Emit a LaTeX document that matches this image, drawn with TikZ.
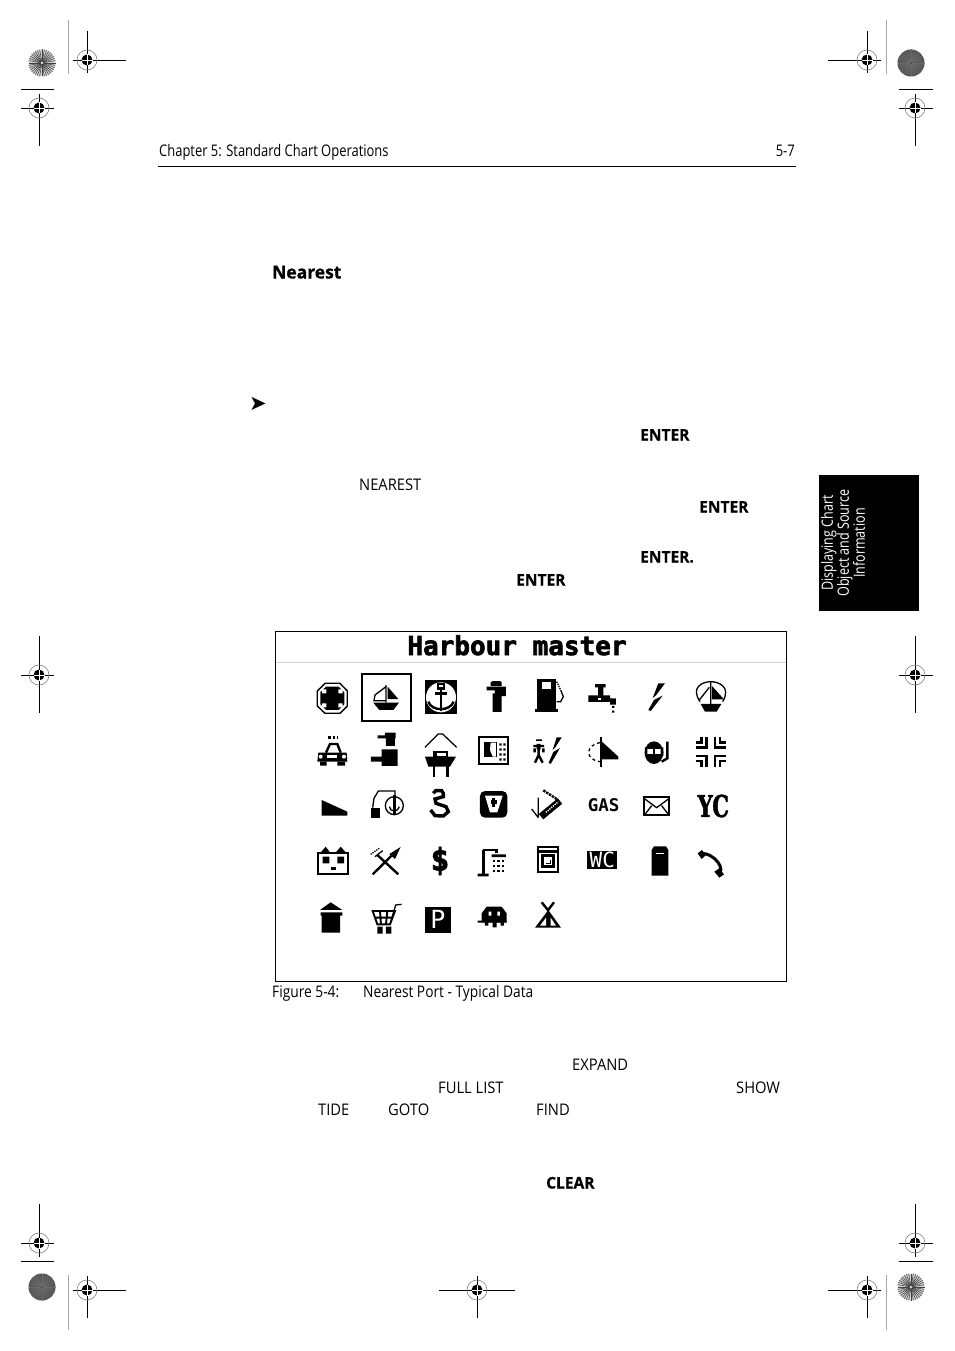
\documentclass[tikz,border=0pt]{standalone}
\usepackage{fontspec}
\usepackage{graphicx}
\setmainfont[FakeStretch=0.81,BoldFeatures={FakeStretch=0.97,FakeBold=0.6}]{Open Sans}
\newfontfamily\capsfont[FakeStretch=0.92]{Open Sans}
\newfontfamily\capfont[FakeStretch=0.86]{Open Sans}
\newfontfamily\lcdfont{DejaVu Sans Mono}
\newfontfamily\lcdmid[UprightFont={* Bold}]{DejaVu Sans Mono}
\newfontfamily\lcdheavy[UprightFont={* Bold},FakeBold=2.5]{DejaVu Sans Mono}
\newfontfamily\lcdserif[UprightFont={* Bold},FakeBold=2]{DejaVu Serif}
\newfontfamily\arrowfont{DejaVu Sans}
\newcommand{\regmark}[2]{%
  \draw[gray,line width=.6pt] (#1,#2) circle[radius=10];
  \fill (#1,#2) circle[radius=5.5];
  \draw[white,line width=.7pt] (#1-5.5,#2) -- (#1+5.5,#2) (#1,#2-5.5) -- (#1,#2+5.5);
}
\newcommand{\stardisc}[4]{%
  \fill[#3] (#1,#2) circle[radius=13.5];
  \foreach \a in {0,10,...,350}{\draw[#4,line width=.55pt] (#1,#2) -- ++(\a:13.5);}
  \fill[#3] (#1,#2) circle[radius=1.5];
}
\tikzset{
  crop/.style={line width=.8pt},
  grayline/.style={line width=.8pt,gray!70},
  pagetext/.style={anchor=base west,inner sep=0pt,font=\fontsize{16}{18}\selectfont},
  capstext/.style={pagetext,font=\fontsize{16}{18}\capsfont},
  captext/.style={pagetext,font=\fontsize{16}{18}\capfont},
  bolditem/.style={pagetext,font=\fontsize{16}{18}\selectfont\bfseries},
  lcd/.style={line width=2.4pt},
  lcdthin/.style={line width=1.3pt},
  zA/.style={shift={(300,630)},x=.3333pt,y=-.3333pt},
  zB/.style={shift={(530,630)},x=.3333pt,y=-.3333pt},
  zC/.style={shift={(300,785)},x=.3333pt,y=-.3333pt},
  zD/.style={shift={(530,785)},x=.3333pt,y=-.3333pt},
}
\begin{document}
\begin{tikzpicture}[x=1pt,y=-1pt]
\useasboundingbox[fill=white] (0,0) rectangle (954,1351);

% crop marks
\draw[grayline] (68,20)--(68,74) (886,20)--(886,74) (68,1275)--(68,1330) (886,1275)--(886,1330);
\draw[crop] (73,60)--(126,60) (87,31)--(87,73);
\regmark{87}{60}
\draw[crop] (828,60)--(881,60) (867,31)--(867,73);
\regmark{867}{60}
\draw[crop] (21,108)--(54,108) (39,94)--(39,146) (21,89)--(54,89);
\regmark{39}{108}
\draw[crop] (899,108)--(933,108) (915,94)--(915,146) (899,89)--(933,89);
\regmark{915}{108}
\draw[crop] (21,675)--(54,675) (39,636)--(39,713);
\regmark{39}{675}
\draw[crop] (899,675)--(933,675) (915,636)--(915,713);
\regmark{915}{675}
\draw[crop] (21,1243)--(54,1243) (39,1204)--(39,1257) (21,1261)--(54,1261);
\regmark{39}{1243}
\draw[crop] (899,1243)--(933,1243) (915,1204)--(915,1257) (899,1261)--(933,1261);
\regmark{915}{1243}
\draw[crop] (73,1290)--(126,1290) (87,1276)--(87,1318);
\regmark{87}{1290}
\draw[crop] (828,1290)--(881,1290) (867,1276)--(867,1318);
\regmark{867}{1290}
\draw[crop] (439,1290)--(515,1290) (477,1276)--(477,1318);
\regmark{477}{1290}
\stardisc{42}{63}{gray!35}{black!75}
\stardisc{911}{63}{gray!65!black}{gray!85!black}
\stardisc{42}{1287}{gray!65!black}{gray!85!black}
\stardisc{911}{1287}{gray!35}{black!75}

% header
\node[pagetext] (hdr) at (159,156.5) {Chapter 5: Standard Chart Operations};
\node[pagetext,anchor=base east] (pg) at (795,156.5) {5-7};
\draw[line width=.8pt] (158,166.3)--(796,166.3);

% body fragments
\node[bolditem,font=\fontsize{18}{20}\selectfont\bfseries] (near) at (272,278.5) {Nearest};
\node[pagetext,font=\fontsize{21}{21}\arrowfont] (arr) at (249,410) {➤};
\node[bolditem] (e1) at (640,440.5) {ENTER};
\node[capstext] (t1) at (359,490.5) {NEAREST};
\node[bolditem] (e2) at (699,512.5) {ENTER};
\node[bolditem] (e3) at (640,562.5) {ENTER.};
\node[bolditem] (e4) at (516,585.5) {ENTER};
\node[capstext] (t2) at (572,1070.5) {EXPAND};
\node[capstext] (t3) at (438,1093.5) {FULL LIST};
\node[capstext] (t4) at (736,1093.5) {SHOW};
\node[capstext] (t5) at (318,1115.5) {TIDE};
\node[capstext] (t6) at (388,1115.5) {GOTO};
\node[capstext] (t7) at (536,1115.5) {FIND};
\node[bolditem] (e5) at (546,1188.5) {CLEAR};

% side tab
\fill (819,475) rectangle (919,611);
\node[rotate=90,white,align=center,inner sep=0pt,font=\fontsize{15.5}{16}\selectfont] (tab) at (843,543) {Displaying Chart\\Object and Source\\Information};

% figure
\draw[line width=.8pt] (275.5,631.5) rectangle (786.5,981.5);
\draw[line width=.7pt,gray!35] (276,662.5)--(786,662.5);
\node[inner sep=0pt,anchor=base,font=\fontsize{26}{26}\lcdheavy] (title) at (517,655) {Harbour master};
\node[captext] (c1) at (272,997.5) {Figure 5-4:};
\node[captext] (c2) at (363,997.5) {Nearest Port - Typical Data};

% ===== icons =====
\begin{scope}[zA]
% medical
\draw[lcdthin] (75,160)--(120,160)--(142,183)--(142,228)--(120,250)--(75,250)--(52,228)--(52,183)--cycle;
\fill (78,170)--(116,170)--(133,187)--(133,223)--(116,240)--(78,240)--(61,223)--(61,187)--cycle;
\fill[white] (66,178)--(79,178)--(79,190)--(66,190)--cycle (115,178)--(128,178)--(128,190)--(115,190)--cycle (66,220)--(79,220)--(79,232)--(66,232)--cycle (115,220)--(128,220)--(128,232)--(115,232)--cycle;
% selected boat
\draw[line width=2pt] (186,132) rectangle (333,274);
\draw[lcdthin] (258,165)--(258,218) (258,170)--(225,195)--(222,212)--(258,212);
\fill (263,170)--(295,207)--(263,207)--cycle;
\fill (220,218)--(297,218)--(280,240)--(238,240)--cycle;
% anchor square
\fill (375,150) rectangle (470,252);
\fill[white] (423,202) circle[radius=45];
\fill (375,150) rectangle (470,156);
\draw[lcd] (423,172)--(423,243) (406,190)--(440,190);
\draw[lcd] (414,162) rectangle (432,176);
\draw[lcd] (385,215)..controls (395,245) and (450,245) .. (461,215);
% lighthouse
\fill (572,157)--(578,153)--(600,153)--(605,157)--(605,168)--(572,168)--cycle;
\fill (560,170) rectangle (618,181) (585,181) rectangle (618,198) (578,190) rectangle (605,246);
% police car
\draw[lcd,dotted] (85,322)--(115,322);
\draw[lcd] (78,368)--(90,342)--(112,342)--(122,368);
\fill (55,368)--(140,368)--(142,395)--(52,395)--cycle;
\fill (60,395) rectangle (80,407) (112,395) rectangle (135,407);
\fill[white] (62,380) circle[radius=6] (132,380) circle[radius=6];
\fill[white] (82,376) rectangle (112,384);
% officer
\fill (233,316) rectangle (287,325) (255,308) rectangle (287,316) (258,325) rectangle (285,348) (245,358) rectangle (293,408) (213,380) rectangle (245,395);
% trailer/boat
\draw[lcdthin] (375,352)--(415,312)--(428,312)--(470,352);
\fill (375,380)--(468,380)--(450,410)--(385,410)--cycle;
\fill (400,362) rectangle (445,380);
\fill[white] (410,368) rectangle (438,378);
\draw[lcd] (402,408)--(402,440) (442,408)--(442,440);
% plotter
\draw[line width=1.8pt] (537,320) rectangle (625,402);
\fill (552,335) rectangle (590,382);
\fill[white] (572,338)--(588,338)--(588,380)--(578,380)--(570,360)--cycle;
\foreach \yy in {340,355,370,385} {\fill (598,\yy) rectangle ++(7,7) (610,\yy) rectangle ++(7,7);}
\end{scope}

\begin{scope}[zB]
% pump
\fill (22,148) rectangle (78,240);
\fill[white] (36,156) rectangle (64,178);
\fill (15,238) rectangle (85,245);
\draw[lcdthin,densely dotted] (80,155)--(92,180);
\draw[lcdthin] (92,180)--(100,200)--(92,215)--(80,215);
% tap
\fill (195,162) rectangle (227,172) (204,172) rectangle (220,195) (175,196) rectangle (240,216) (240,205) rectangle (258,224);
\fill[white] (205,203) rectangle (213,210);
\fill (246,228) rectangle ++(7,6) (246,242) rectangle ++(7,6);
% lightning
\fill (385,160)--(405,160)--(378,196)--(368,204)--cycle;
\fill (372,210)--(398,197)--(362,243)--(355,240)--cycle;
% boat circle
\draw[lcdthin] (510,215)..controls (480,170) and (520,155) .. (542,155) ..controls (565,155) and (605,170) .. (578,215);
\draw[lcdthin] (542,155)--(542,222) (538,172)--(508,210);
\fill (546,168)--(582,208)--(546,208)--cycle;
\fill (512,222)--(574,222)--(560,245)--(525,245)--cycle;
% person + bolt
\fill (18,328) rectangle (36,333) (20,342) rectangle (32,358);
\draw[lcd] (26,345)--(26,375) (14,355)--(14,367) (40,355)--(40,367) (26,375)--(15,398) (26,375)--(38,398) (10,348)--(42,348);
\fill (80,322)--(95,322)--(76,352)--(68,360)--cycle;
\fill (70,366)--(90,354)--(62,402)--(56,398)--cycle;
% half flag
\draw[lcd] (213,322)--(213,412);
\fill (216,335)--(265,380)--(265,388)--(216,388)--cycle;
\draw[lcdthin,dashed] (210,338)..controls (165,345) and (165,390) .. (210,395);
% diver
\fill (372,368) ellipse[x radius=28,y radius=34];
\fill[white] (352,358) rectangle (392,372);
\fill (345,352) rectangle (352,378) (392,352) rectangle (400,378);
\fill (368,358) rectangle (376,372);
\draw[lcd] (412,335)--(412,385)--(395,395);
% compass arrows
\draw[lcd] (497,352)--(530,352)--(530,320) (497,337)--(515,337)--(515,320);
\draw[lcd] (587,352)--(555,352)--(555,320) (587,337)--(570,337)--(570,320);
\draw[lcd] (497,378)--(530,378)--(530,410) (497,393)--(515,393)--(515,410);
\draw[lcd] (587,378)--(555,378)--(555,410) (587,393)--(570,393)--(570,410);
\end{scope}

\begin{scope}[zC]
% slope
\fill (65,45)--(142,80)--(142,92)--(65,92)--cycle;
% crane
\draw[lcdthin] (218,68)--(222,40)--(235,18)--(285,18)--(285,35);
\fill (213,68) rectangle (240,100);
\draw[lcdthin] (283,62) circle[radius=27];
\draw[lcd] (283,30)--(283,88);
\draw[lcdthin] (268,65)..controls (270,82) and (295,82) .. (298,65);
% hook
\draw[line width=3.4pt] (400,25)--(407,17)--(425,17)--(430,25)--(430,35)--(405,42)--(408,55)--(438,65)--(445,80)--(430,93)--(405,92)--(392,75);
% V
\fill[rounded corners=5pt] (540,18) rectangle (622,98);
\fill[white] (555,32)--(608,32)--(592,82)--(570,82)--cycle;
\draw[lcd] (581,40)--(581,65);
\fill (574,46) rectangle (590,56);
% house
\draw[line width=1.8pt] (55,205) rectangle (145,267);
\fill (60,205)--(77,185)--(92,205)--cycle (105,205)--(122,185)--(140,205)--cycle;
\fill (68,215) rectangle (88,235) (112,215) rectangle (132,235);
\fill (92,247) rectangle (108,255);
% fork & knife
\draw[lcd] (218,268)--(282,205) (295,268)--(232,210);
\fill (268,207)--(302,186)--(285,222)--cycle;
\draw[lcdthin,densely dotted] (212,208)--(240,188);
\draw[lcdthin] (225,215)--(248,197);
% dollar
\node[inner sep=0pt,font=\fontsize{31}{31}\lcdheavy] (dollar) at (420,228) {\$};
% shower
\draw[lcd] (550,195)--(550,268) (550,195)--(590,195)--(590,205);
\fill (533,266) rectangle (566,274) (575,208) rectangle (618,216);
\foreach \xx in {579,592,605}{\foreach \yy in {225,240,255}{\fill (\xx,\yy) rectangle ++(7,7);}}
% bucket
\fill (60,375)--(92,352)--(127,375)--cycle (62,382) rectangle (127,392) (65,392) rectangle (120,443);
% cart
\draw[lcdthin] (305,358)--(287,360)--(270,418);
\draw[line width=1.9pt] (218,378)--(285,378)--(270,418)--(232,418)--cycle (225,398)--(278,398) (240,378)--(243,418) (262,378)--(258,418);
\fill (232,425) rectangle (248,446) (258,425) rectangle (274,446);
% parking
\fill (374,366) rectangle (452,443);
\node[white,inner sep=0pt,font=\fontsize{25}{25}\lcdfont] (pk) at (414,404) {P};
% tortoise
\fill (560,365)--(605,365)--(620,385)--(620,412)--(545,412)--(545,385)--cycle;
\fill (533,407) rectangle (620,413) (555,413) rectangle (565,422) (578,413) rectangle (590,427) (602,413) rectangle (612,422);
\fill[white] (566,380) rectangle (574,392) (592,380) rectangle (600,392);
\end{scope}

\begin{scope}[zD]
% wrench with arrow
\draw[lcdthin] (25,38)--(25,98) (5,72)--(25,98);
\draw[line width=7pt] (33,95)--(90,48);
\draw[white,lcdthin,densely dotted] (48,82)--(85,50);
\draw[lcd,densely dotted] (40,16)--(80,42);
% GAS
\node[inner sep=0pt,font=\fontsize{17.5}{17.5}\lcdmid] (gas) at (221,60) {GAS};
% envelope
\draw[line width=1.8pt] (342,35) rectangle (418,90);
\draw[lcdthin] (342,40)--(380,68)--(418,40) (345,88)--(365,62) (415,88)--(395,62);
% YC
\node[inner sep=0pt,font=\fontsize{30}{30}\lcdserif] (yc) at (550,63) {\scalebox{.7}[1]{YC}};
% washer
\draw[line width=2pt] (24,187) rectangle (84,262);
\draw[lcd] (24,199)--(84,199);
\draw[lcd] (37,212) rectangle (70,245);
\draw[lcdthin] (48,235)--(62,235)--(62,225);
% WC
\fill (172,197) rectangle (262,253);
\node[white,inner sep=0pt,font=\fontsize{21}{21}\lcdfont] (wc) at (217,226) {WC};
% bottle
\fill (365,195)--(372,184)--(408,184)--(415,195)--(415,272)--(365,272)--cycle;
\fill[white] (378,203) rectangle (402,208);
% phone
\draw[line width=3pt] (510,208)..controls (530,195) and (585,235) .. (570,265);
\fill (503,205)--(516,195)--(528,210)--(515,222)--cycle;
\fill (553,260)--(568,250)--(582,268)--(568,278)--cycle;
% tent
\fill (15,428)--(55,375)--(93,428)--cycle;
\fill[white] (30,422)--(48,398)--(48,422)--cycle (62,398)--(78,422)--(62,422)--cycle;
\draw[lcd] (35,352)--(56,378) (72,352)--(52,378);
\end{scope}
\end{tikzpicture}
\end{document}
